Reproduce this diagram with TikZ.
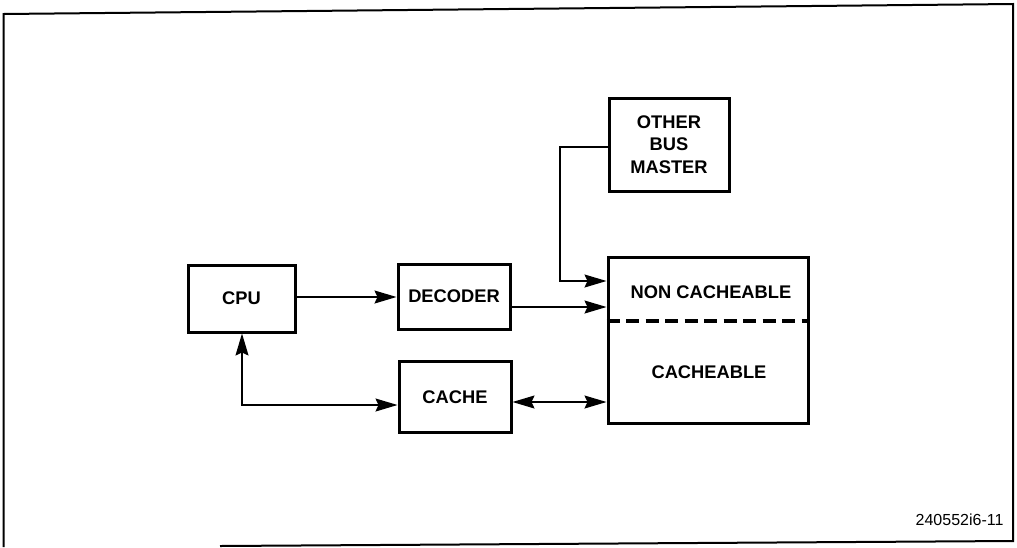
\documentclass[tikz,border=0pt]{standalone}
\usepackage{fontspec}
\setmainfont{Liberation Sans}
\usetikzlibrary{arrows.meta}
\begin{document}
\begin{tikzpicture}[x=1pt,y=-1pt,
  blk/.style={draw,line width=3pt,inner sep=0pt,font=\fontsize{18.3}{22.5}\selectfont\bfseries,align=center},
  lbl/.style={font=\fontsize{18.3}{21}\selectfont\bfseries},
  conn/.style={line width=1.4pt},
  tip/.tip={Stealth[length=22pt,width=13pt,inset=3pt]},
  arr/.style={-tip},
  darr/.style={tip-tip}]
\useasboundingbox (0,0) rectangle (1017,547);
% frame
\draw[line width=2pt] (220,546) -- (1013,541) -- (1013,4) -- (3.5,14) -- (3.5,547);
% blocks
\node[blk,minimum width=107pt,minimum height=67pt] (cpu) at (241.5,298.5) {CPU};
\node[blk,minimum width=112pt,minimum height=65pt] (dec) at (454,296.5) {DECODER};
\node[blk,minimum width=112pt,minimum height=71pt] (cache) at (455,397) {CACHE};
\node[blk,minimum width=120pt,minimum height=93pt] (obm) at (669,144.5) {OTHER\\BUS\\MASTER};
\node[blk,minimum width=200pt,minimum height=166pt] (mem) at (708,340) {};
\node[lbl] (nc) at (711,292) {NON CACHEABLE};
\node[lbl] (ca) at (709,372) {CACHEABLE};
\draw[line width=3.5pt,dash pattern=on 13pt off 6.5pt] (mem.west |- 0,321) -- (mem.east |- 0,321);
% connectors
\draw[conn,arr] (cpu.east |- 0,297) -- (dec.west |- 0,297);
\draw[conn,arr] (dec.east |- 0,307) -- (mem.west |- 0,307);
\draw[conn,arr] (obm.west |- 0,147) -| (560,281) -- (mem.west |- 0,281);
\draw[conn,darr] (cpu.south -| 242,0) |- (cache.west |- 0,405);
\draw[conn,darr] (cache.east |- 0,402) -- (mem.west |- 0,402);
% figure id
\node[font=\fontsize{16}{18}\selectfont,anchor=east] (fid) at (1007,520) {240552i6-11};
\end{tikzpicture}
\end{document}
